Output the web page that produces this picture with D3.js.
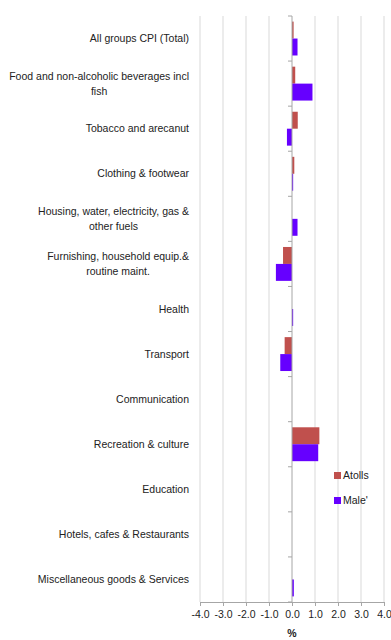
<!DOCTYPE html>
<html>
<head>
<meta charset="utf-8">
<script src="https://cdn.jsdelivr.net/npm/d3@7"></script>
<style>
  html, body { margin: 0; padding: 0; background: #fff; }
  svg { display: block; font-family: "Liberation Sans", Arial, sans-serif; }
</style>
</head>
<body>
<svg id="chart" width="391" height="640"></svg>
<script>
// CPI change by group, Atolls vs Male'
const categories = [
  ["All groups CPI (Total)"],
  ["Food and non-alcoholic beverages incl", "fish"],
  ["Tobacco and arecanut"],
  ["Clothing & footwear"],
  ["Housing, water, electricity, gas &", "other fuels"],
  ["Furnishing, household equip.&", "routine maint."],
  ["Health"],
  ["Transport"],
  ["Communication"],
  ["Recreation & culture"],
  ["Education"],
  ["Hotels, cafes & Restaurants"],
  ["Miscellaneous goods & Services"]
];
const atolls = [0.07, 0.14, 0.25, 0.10, 0.0, -0.39, 0.0, -0.32, 0.0, 1.19, 0.0, 0.0, 0.0];
const male   = [0.24, 0.89, -0.22, 0.05, 0.24, -0.70, 0.05, -0.51, 0.0, 1.14, 0.0, 0.0, 0.08];
const seriesNames = ["Atolls", "Male'"];
const seriesColors = ["#C0504D", "#6600FF"];
const xTicks = [-4, -3, -2, -1, 0, 1, 2, 3, 4];
const xTitle = "%";

const svg = d3.select("#chart");
const plot = { left: 200, right: 384, top: 16, bottom: 602 };
const fontSize = 10.5;

const x = d3.scaleLinear().domain([-4, 4]).range([plot.left, plot.right]);
const y = d3.scaleBand().domain(d3.range(categories.length)).range([plot.top, plot.bottom]);
const inner = d3.scaleBand().domain([0, 1]).range([0, y.bandwidth()]).paddingInner(0).paddingOuter(0.33);

// vertical gridlines
svg.append("g").selectAll("line").data(xTicks.filter(d => d !== 0)).join("line")
  .attr("x1", d => x(d)).attr("x2", d => x(d))
  .attr("y1", plot.top).attr("y2", plot.bottom)
  .attr("stroke", "#d9d9d9").attr("stroke-width", 1);

// bars
const series = [atolls, male];
series.forEach((vals, s) => {
  svg.append("g").selectAll("rect").data(vals).join("rect")
    .attr("x", d => x(Math.min(0, d)))
    .attr("width", d => Math.abs(x(d) - x(0)))
    .attr("y", (d, i) => y(i) + inner(s))
    .attr("height", inner.bandwidth())
    .attr("fill", seriesColors[s]);
});

// bottom axis (plain hyphen for negatives)
const xAxis = d3.axisBottom(x).tickValues(xTicks).tickFormat(d => d.toFixed(1)).tickSize(4).tickSizeOuter(0);
const gx = svg.append("g").attr("transform", `translate(0,${plot.bottom})`).call(xAxis);
gx.select(".domain").attr("stroke", "#a6a6a6");
gx.selectAll(".tick line").attr("stroke", "#a6a6a6");
gx.selectAll(".tick text").attr("font-size", fontSize).attr("fill", "#222").attr("dy", "0.9em")
  .attr("font-family", "Liberation Sans, Arial, sans-serif");

// zero axis with category ticks
svg.append("line").attr("x1", x(0)).attr("x2", x(0)).attr("y1", plot.top).attr("y2", plot.bottom)
  .attr("stroke", "#a6a6a6");
const bounds = d3.range(categories.length + 1).map(i => plot.top + i * y.step());
svg.append("g").selectAll("line").data(bounds).join("line")
  .attr("x1", x(0) - 4).attr("x2", x(0))
  .attr("y1", d => d).attr("y2", d => d)
  .attr("stroke", "#a6a6a6");

// category labels: right-aligned block, lines centred within block
const labelRight = 189;
const lineH = 14.5;
categories.forEach((lines, i) => {
  const cy = y(i) + y.bandwidth() / 2;
  const g = svg.append("g");
  const texts = lines.map((t, k) => g.append("text")
    .attr("font-size", fontSize).attr("fill", "#222")
    .attr("y", cy + (k - (lines.length - 1) / 2) * lineH)
    .attr("dy", "0.35em")
    .text(t));
  const widths = texts.map(t => t.node().getComputedTextLength());
  const maxW = d3.max(widths);
  texts.forEach(t => t.attr("text-anchor", "middle").attr("x", labelRight - maxW / 2));
});

// axis title
svg.append("text").attr("x", x(0)).attr("y", 637).attr("text-anchor", "middle")
  .attr("font-size", fontSize).attr("font-weight", "bold").attr("fill", "#222").text(xTitle);

// legend
const legend = svg.append("g").attr("transform", "translate(334,472)");
seriesNames.forEach((n, s) => {
  const row = legend.append("g").attr("transform", `translate(0,${s * 25})`);
  row.append("rect").attr("width", 7).attr("height", 7).attr("fill", seriesColors[s]);
  row.append("text").attr("x", 9).attr("y", 3.5).attr("dy", "0.35em")
    .attr("font-size", fontSize).attr("fill", "#222").text(n);
});
</script>
</body>
</html>
